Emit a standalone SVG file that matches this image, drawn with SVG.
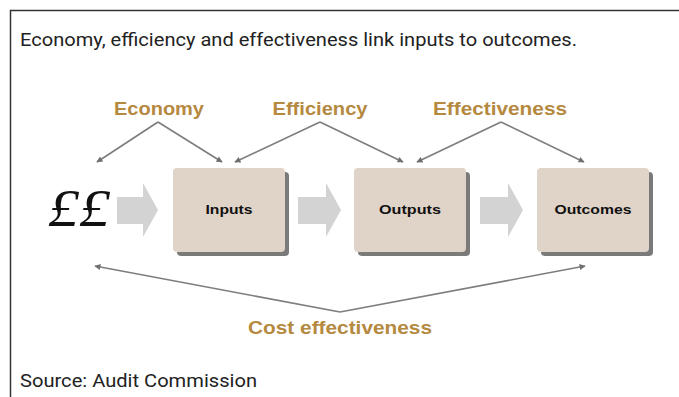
<svg xmlns="http://www.w3.org/2000/svg" width="679" height="397" viewBox="0 0 679 397">
  <style>
    .frame { fill: #ffffff; stroke: #333333; stroke-width: 1.5; }
    .caption { font-family: Roboto, "Liberation Sans", sans-serif; font-size: 18px; fill: #222222; }
    .term { font-family: "Liberation Sans", Arial, sans-serif; font-weight: bold; font-size: 19px; fill: #b5893f; text-anchor: middle; }
    .box { fill: #e0d3c7; }
    .shadow { fill: #7a7a7a; }
    .boxlabel { font-family: "Liberation Sans", Arial, sans-serif; font-weight: bold; font-size: 13px; fill: #111111; text-anchor: middle; }
    .flow { fill: #d3d3d3; }
    .link { fill: none; stroke: #7d7d7d; stroke-width: 1.6; marker-end: url(#tip); }
    .money { font-family: "Liberation Serif", "DejaVu Serif", serif; font-style: italic; font-size: 52px; fill: #111111; }
  </style>
  <defs>
    <marker id="tip" viewBox="0 0 10 10" refX="9" refY="5" markerWidth="7" markerHeight="6" markerUnits="userSpaceOnUse" orient="auto">
      <path d="M0,0 L10,5 L0,10 z" fill="#6f6f6f"/>
    </marker>
  </defs>

  <!-- panel frame -->
  <rect class="frame" x="10.5" y="10.5" width="700" height="400"/>

  <text class="caption" x="20" y="46" textLength="557" lengthAdjust="spacingAndGlyphs">Economy, efficiency and effectiveness link inputs to outcomes.</text>

  <!-- money symbol -->
  <g id="money">
    <text class="money" x="48" y="226" textLength="62" lengthAdjust="spacingAndGlyphs">££</text>
  </g>

  <!-- wide grey flow arrows -->
  <g id="flow-arrows">
    <path class="flow" d="M117,197 H143 V183 L158,210 L143,237 V224 H117 z"/>
    <path class="flow" d="M298,197 H326 V183 L341,210 L326,237 V224 H298 z"/>
    <path class="flow" d="M480,197 H508 V183 L523,210 L508,237 V224 H480 z"/>
  </g>

  <g id="inputs">
    <rect class="shadow" x="177" y="172" width="112" height="84" rx="4"/>
    <rect class="box" x="173" y="168" width="112" height="84" rx="4"/>
    <text class="boxlabel" x="229" y="214" textLength="47" lengthAdjust="spacingAndGlyphs">Inputs</text>
  </g>

  <g id="outputs">
    <rect class="shadow" x="358" y="172" width="112" height="84" rx="4"/>
    <rect class="box" x="354" y="168" width="112" height="84" rx="4"/>
    <text class="boxlabel" x="410" y="214" textLength="62" lengthAdjust="spacingAndGlyphs">Outputs</text>
  </g>

  <g id="outcomes">
    <rect class="shadow" x="541" y="172" width="112" height="84" rx="4"/>
    <rect class="box" x="537" y="168" width="112" height="84" rx="4"/>
    <text class="boxlabel" x="593" y="214" textLength="77" lengthAdjust="spacingAndGlyphs">Outcomes</text>
  </g>

  <g id="economy">
    <text class="term" x="159" y="115" textLength="90" lengthAdjust="spacingAndGlyphs">Economy</text>
  </g>
  <g id="efficiency">
    <text class="term" x="320" y="115" textLength="95" lengthAdjust="spacingAndGlyphs">Efficiency</text>
  </g>
  <g id="effectiveness">
    <text class="term" x="500" y="115" textLength="134" lengthAdjust="spacingAndGlyphs">Effectiveness</text>
  </g>
  <g id="cost-effectiveness">
    <text class="term" x="340" y="334" textLength="184" lengthAdjust="spacingAndGlyphs">Cost effectiveness</text>
  </g>

  <!-- thin connectors from each measure to the stages it spans -->
  <g id="connectors">
    <path class="link" d="M158,122 L97,162"/>
    <path class="link" d="M158,122 L222,162"/>
    <path class="link" d="M320,122 L235,162"/>
    <path class="link" d="M320,122 L403,162"/>
    <path class="link" d="M501,122 L417,162"/>
    <path class="link" d="M501,122 L584,162"/>
    <path class="link" d="M340,312 L95,266"/>
    <path class="link" d="M340,312 L585,266"/>
  </g>

  <text class="caption" x="20" y="387" textLength="237" lengthAdjust="spacingAndGlyphs">Source: Audit Commission</text>
</svg>
